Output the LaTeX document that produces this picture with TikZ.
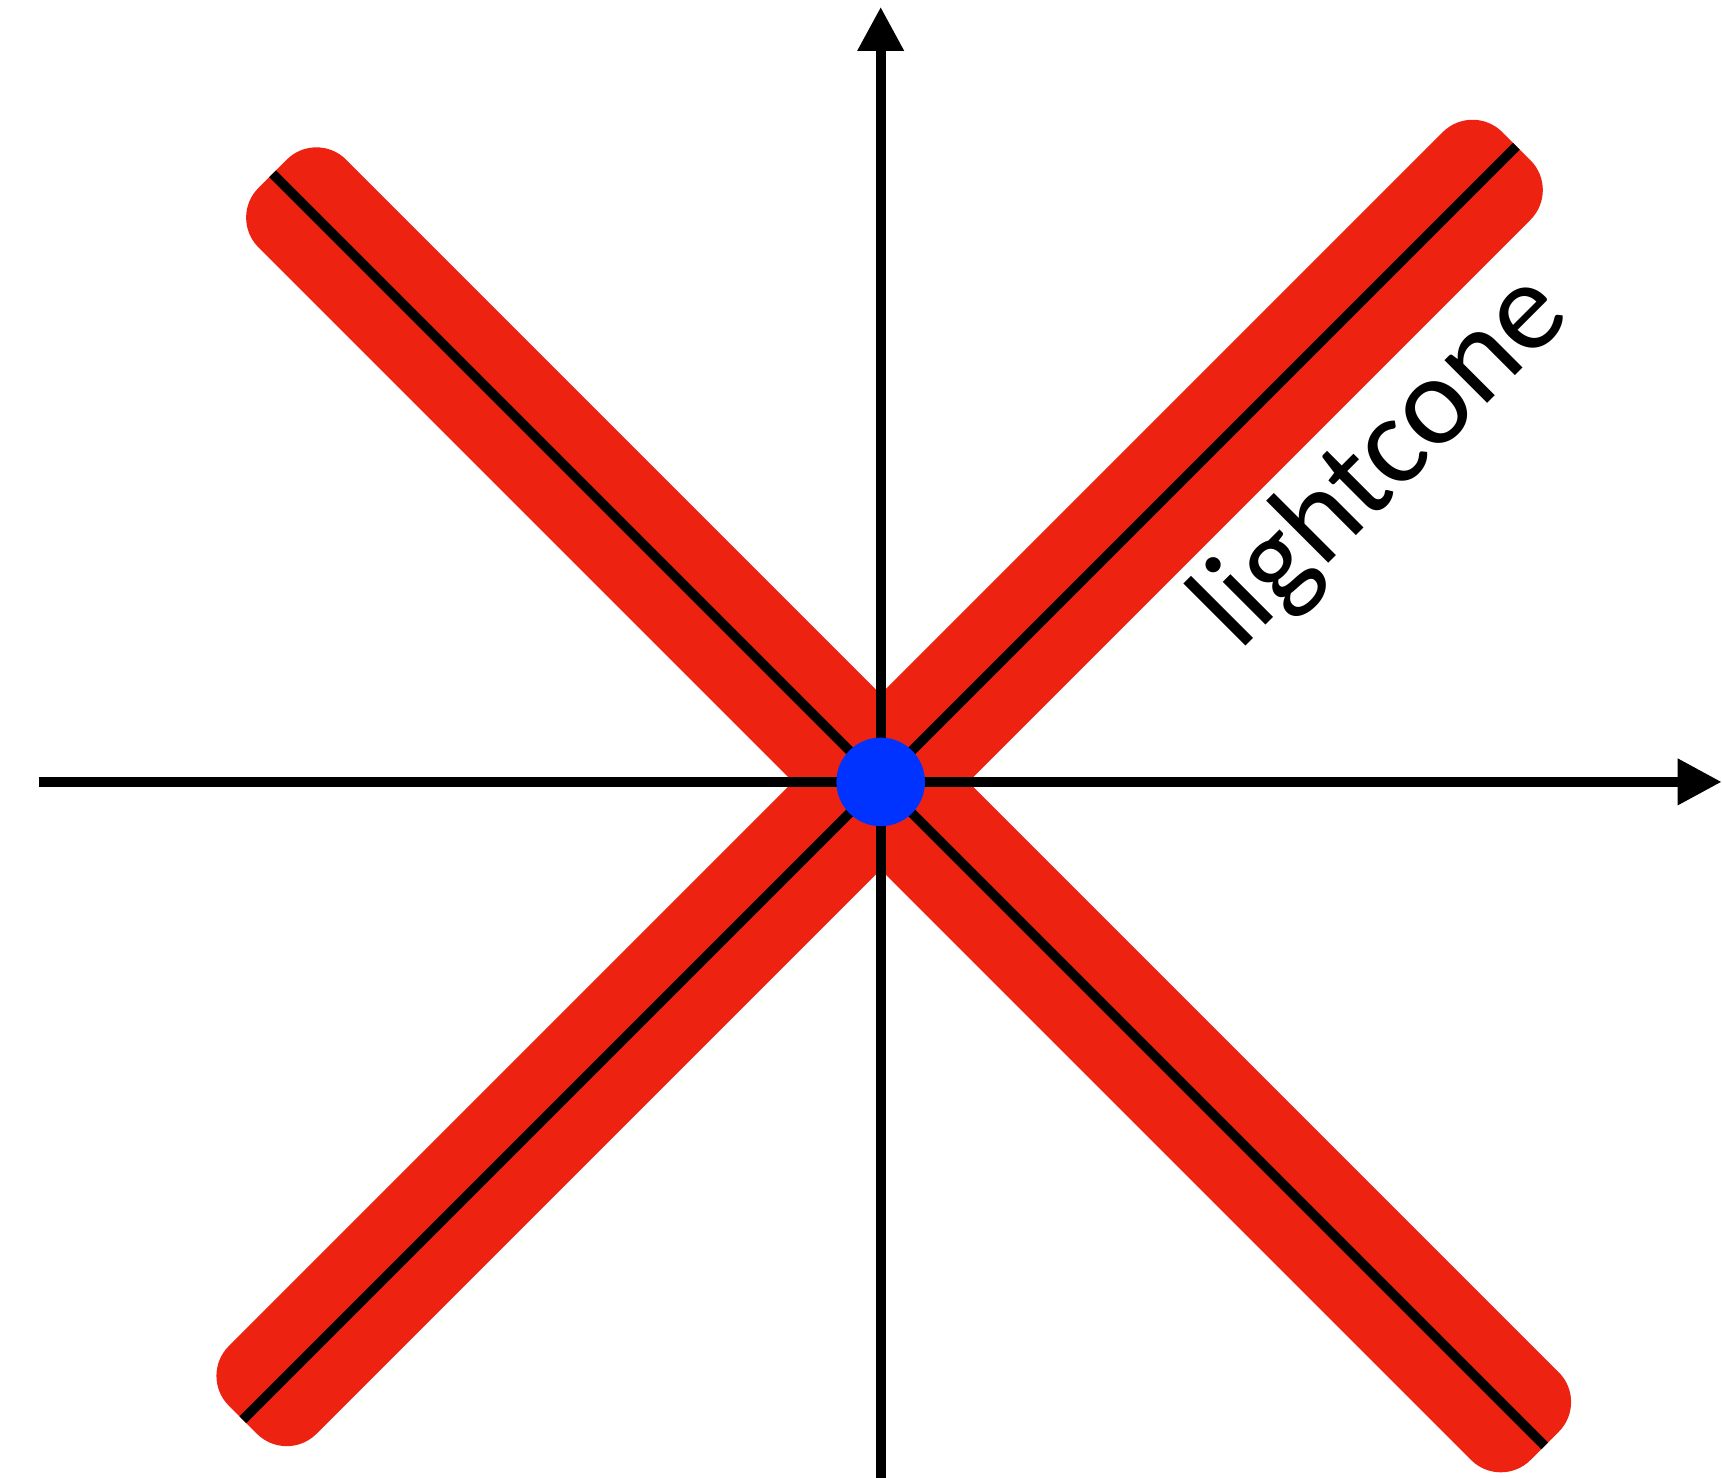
\documentclass[tikz,border=0pt]{standalone}
\usepackage{fontspec}
\setmainfont{Carlito}
\usetikzlibrary{arrows.meta}

\definecolor{conered}{RGB}{237,34,17}
\definecolor{eventblue}{RGB}{0,51,255}

\begin{document}
\begin{tikzpicture}[
  axis/.style={line width=1mm,-{Triangle[length=4.4mm,width=4.4mm]}},
  ray/.style={line width=0.95mm},
  band/.style={fill=conered,rounded corners=4.2mm},
  ]
  \useasboundingbox (-8.807,-6.961) rectangle (8.413,7.819);

  % red bands round the two light rays
  \begin{scope}[rotate=45]
    \fill[band] (-9.02,-0.62) rectangle (8.99,0.62);
    \coordinate (sw) at (-9.02,0);
    \coordinate (ne) at (8.99,0);
  \end{scope}
  \begin{scope}[rotate=-45]
    \fill[band] (-8.60,-0.62) rectangle (9.39,0.62);
    \coordinate (nw) at (-8.60,0);
    \coordinate (se) at (9.39,0);
  \end{scope}

  % light rays
  \draw[ray] (sw) -- (ne);
  \draw[ray] (nw) -- (se);

  % space and time axes
  \coordinate (west) at (-8.42,0);
  \coordinate (east) at (8.41,0);
  \coordinate (south) at (0,-6.961);
  \coordinate (north) at (0,7.75);
  \draw[axis] (west) -- (east);
  \draw[axis] (south) -- (north);

  % the event
  \node[circle,fill=eventblue,minimum size=8.86mm,inner sep=0] (event) at (0,0) {};

  % label
  \node[rotate=45,anchor=base west,inner sep=0,font=\fontsize{36}{42}\selectfont] (conelabel) at (3.58,1.29) {lightcone};

\end{tikzpicture}
\end{document}
